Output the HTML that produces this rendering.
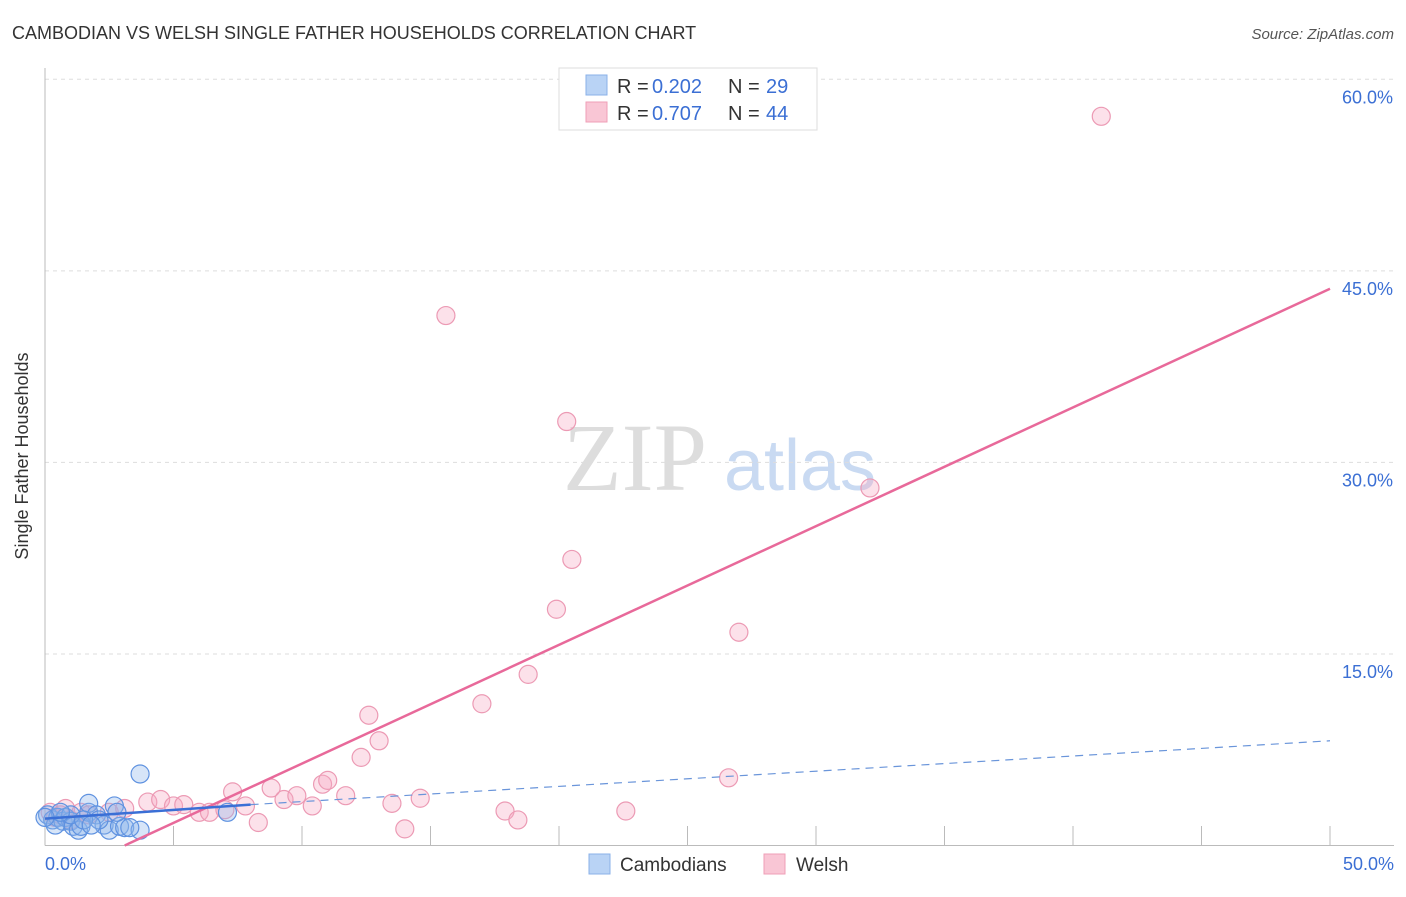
<!DOCTYPE html>
<html><head><meta charset="utf-8"><style>
body{margin:0;background:#fff;font-family:"Liberation Sans",sans-serif}
</style></head><body>
<svg id="c" width="1406" height="892" xmlns="http://www.w3.org/2000/svg" style="font-family:'Liberation Sans',sans-serif">
<text x="12" y="39" font-size="18" fill="#333">CAMBODIAN VS WELSH SINGLE FATHER HOUSEHOLDS CORRELATION CHART</text>
<text x="1394" y="39" font-size="15" fill="#555" text-anchor="end" font-style="italic">Source: ZipAtlas.com</text>
<text x="28" y="456" font-size="18" fill="#333" text-anchor="middle" transform="rotate(-90 28 456)">Single Father Households</text>
<text x="635" y="490" font-size="96" fill="#ddd" font-family="Liberation Serif" text-anchor="middle">ZIP</text>
<text x="800" y="490" font-size="72" fill="#c9daf2" text-anchor="middle">atlas</text>
<g id="grid"></g><g id="marks"></g>
<g>
<rect x="559" y="68" width="258" height="62" fill="#fff" stroke="#ddd"/>
<rect x="586" y="75" width="21" height="20" fill="#b9d3f5" stroke="#8ab0e8"/>
<rect x="586" y="102" width="21" height="20" fill="#f9c6d5" stroke="#ef9fb7"/>
<text x="617" y="93" font-size="20" fill="#333">R =</text>
<text x="652" y="93" font-size="20" fill="#3b6fd4">0.202</text>
<text x="728" y="93" font-size="20" fill="#333">N =</text>
<text x="766" y="93" font-size="20" fill="#3b6fd4">29</text>
<text x="617" y="120" font-size="20" fill="#333">R =</text>
<text x="652" y="120" font-size="20" fill="#3b6fd4">0.707</text>
<text x="728" y="120" font-size="20" fill="#333">N =</text>
<text x="766" y="120" font-size="20" fill="#3b6fd4">44</text>
</g>
<g>
<rect x="589" y="854" width="21" height="20" fill="#b9d3f5" stroke="#8ab0e8"/>
<text x="620" y="871" font-size="19" fill="#333">Cambodians</text>
<rect x="764" y="854" width="21" height="20" fill="#f9c6d5" stroke="#ef9fb7"/>
<text x="796" y="871" font-size="19" fill="#333">Welsh</text>
</g>
</svg>
<script>
const yTicks=[15,30,45,60];
const yTickLabels=["15.0%","30.0%","45.0%","60.0%"];
const cambX=[0.1,0.3,0.5,0.7,0.8,1.0,1.1,1.3,1.4,1.7,1.7,2.0,2.3,2.5,2.7,2.9,3.1,3.7,3.7,7.1,0.4,1.0,2.1,0.6,1.5,1.8,2.8,3.3,0.0];
const cambY=[2.4,2.0,2.2,1.9,2.2,1.9,1.5,1.2,1.5,2.6,3.3,2.4,1.6,1.2,3.1,1.5,1.4,5.6,1.2,2.6,1.6,2.4,2.0,2.6,2.0,1.6,2.6,1.4,2.2];
const welshX=[0.2,0.4,0.6,0.8,1.0,1.4,1.7,2.5,3.1,4.0,4.5,5.0,5.4,6.0,6.4,7.0,7.3,7.8,8.3,8.8,9.3,9.8,10.4,10.8,11.0,11.7,12.6,13.0,12.3,13.5,14.0,14.6,15.6,17.0,17.9,18.4,18.8,19.9,20.3,20.5,22.6,26.6,27.0,32.1,41.1];
const welshY=[2.6,2.2,2.4,2.9,2.0,2.6,2.4,2.6,2.9,3.4,3.6,3.1,3.2,2.6,2.6,2.8,4.2,3.1,1.8,4.5,3.6,3.9,3.1,4.8,5.1,3.9,10.2,8.2,6.9,3.3,1.3,3.7,41.5,11.1,2.7,2.0,13.4,18.5,33.2,22.4,2.7,5.3,16.7,28.0,57.1];
const blueLine=[[0,2.1],[8,3.2]], blueDash=[[8,3.2],[50,8.2]], pinkLine=[[3.1,0],[50,43.6]];
const X=v=>45+v*25.7, Y=v=>845.5-v*12.77;
const NS="http://www.w3.org/2000/svg";
function mk(t,a,p){const e=document.createElementNS(NS,t);for(const k in a)e.setAttribute(k,a[k]);p.appendChild(e);return e;}
const g=document.getElementById('grid'),m=document.getElementById('marks');
yTicks.forEach((t,i)=>{const l=mk('line',{x1:45,x2:1394,y1:Y(t),y2:Y(t),stroke:'#ddd','stroke-dasharray':'4,4'},g);

const tx=mk('text',{x:1393,y:Y(t)+24,'font-size':18,fill:'#3b6fd4','text-anchor':'end'},g);tx.textContent=yTickLabels[i];
});
const ax=mk('line',{x1:45,x2:1394,y1:845.5,y2:845.5,stroke:'#bbb'},g);

const ay=mk('line',{x1:45,x2:45,y1:68,y2:845.5,stroke:'#bbb'},g);

for(let i=1;i<=10;i++){const t=mk('line',{x1:X(i*5),x2:X(i*5),y1:826,y2:845,stroke:'#bbb'},g);
}
[["0.0%",45,'start'],["50.0%",1394,'end']].forEach(d=>{const t=mk('text',{x:d[1],y:870,'font-size':18,fill:'#3b6fd4','text-anchor':d[2]},g);t.textContent=d[0];
});
welshX.forEach((v,i)=>{const c=mk('circle',{cx:X(v),cy:Y(welshY[i]),r:9,fill:'rgba(246,170,195,0.35)',stroke:'#ec9ab4','stroke-width':1.2},m);
});
cambX.forEach((v,i)=>{const c=mk('circle',{cx:X(v),cy:Y(cambY[i]),r:9,fill:'rgba(140,180,235,0.35)',stroke:'#5f92e0','stroke-width':1.2},m);
});
function ln(p,st,w,da,name){const l=mk('line',{x1:X(p[0][0]),y1:Y(p[0][1]),x2:X(p[1][0]),y2:Y(p[1][1]),stroke:st,'stroke-width':w},m);if(da)l.setAttribute('stroke-dasharray',da);
}
ln(pinkLine,'#e8699a',2.5,null,'welsh-trendline');
ln(blueLine,'#3a6fd6',2.5,null,'cambodian-trendline');
ln(blueDash,'#6a95da',1.2,'8,6','cambodian-trendline-extension');
</script>
</body></html>
